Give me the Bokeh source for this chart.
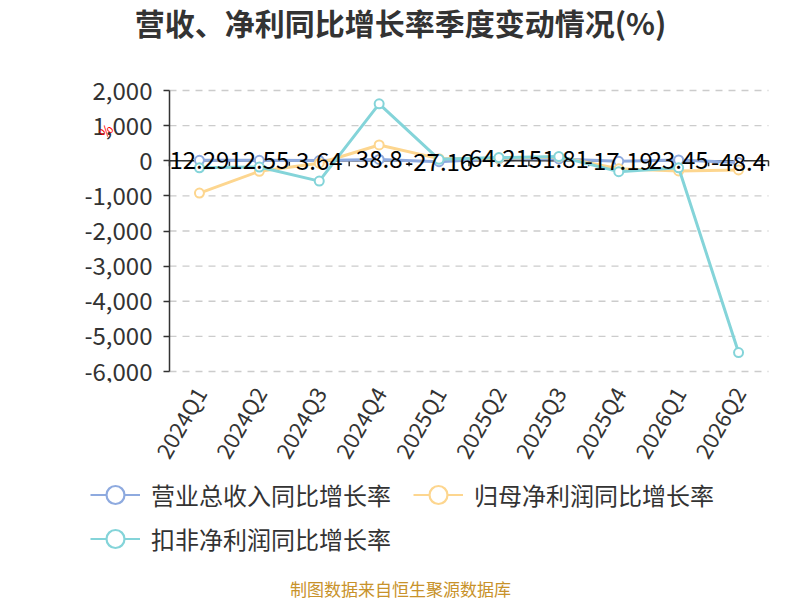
from bokeh.plotting import figure
from bokeh.models import (ColumnDataSource, Range1d, FixedTicker, NumeralTickFormatter,
                          Label, Legend, LegendItem)
from bokeh.layouts import column
from bokeh.core.properties import value
from bokeh.embed import file_html
from bokeh.resources import INLINE
import math

categories = ["2024Q1", "2024Q2", "2024Q3", "2024Q4", "2025Q1",
              "2025Q2", "2025Q3", "2025Q4", "2026Q1", "2026Q2"]
revenue_yoy = [12.29, 12.55, 3.64, 38.8, -27.16, 64.21, 51.81, -17.19, 23.45, -48.4]
netprofit_yoy = [-920, -300, -70, 450, 60, 70, 110, -230, -290, -260]
deducted_yoy = [-200, -180, -580, 1620, 40, 90, 120, -310, -200, -5460]
revenue_labels = ["12.29", "12.55", "3.64", "38.8", "-27.16", "64.21", "51.81", "-17.19", "23.45", "-48.4"]
y_ticks = [-6000, -5000, -4000, -3000, -2000, -1000, 0, 1000, 2000]
series_names = ["营业总收入同比增长率", "归母净利润同比增长率", "扣非净利润同比增长率"]
title_text = "营收、净利同比增长率季度变动情况(%)"
footer_text = "制图数据来自恒生聚源数据库"

FONT = "Noto Sans CJK SC"
C_BLUE = "#8eaadf"
C_ORANGE = "#fdd68f"
C_CYAN = "#84d4d9"

# page layout (pixels)
W = 792
FRAME_L, FRAME_R = 85, 780          # drawing frame (shared by both figures)
FRAME_B = 382                       # bottom of main drawing frame
CHART_L, CHART_R = 169, 768         # plotted category area
CHART_T, CHART_B = 90, 371          # y = max .. min tick
MAIN_H = 476
LEG_H = 600 - MAIN_H

n = len(categories)
ymin, ymax = min(y_ticks), max(y_ticks)
px_per_x = (CHART_R - CHART_L) / n
px_per_y = (CHART_B - CHART_T) / (ymax - ymin)
x_start = -0.5 - (CHART_L - FRAME_L) / px_per_x
x_end = n - 0.5 + (FRAME_R - CHART_R) / px_per_x
y_end = ymax + CHART_T / px_per_y
y_start = ymin - (FRAME_B - CHART_B) / px_per_y

xs = list(range(n))
src = ColumnDataSource(dict(x=xs, rev=revenue_yoy, net=netprofit_yoy, ded=deducted_yoy,
                            lab=revenue_labels))

p = figure(width=W, height=MAIN_H, output_backend="svg", toolbar_location=None,
           x_range=Range1d(x_start, x_end), y_range=Range1d(y_start, y_end),
           min_border_left=FRAME_L, min_border_right=W - FRAME_R, min_border_top=0,
           min_border_bottom=MAIN_H - FRAME_B)
p.outline_line_color = None
p.background_fill_color = "white"
p.border_fill_color = "white"
p.grid.visible = False

# y axis drawn at the left edge of the category area
p.yaxis.fixed_location = -0.5
p.yaxis.bounds = (ymin, ymax)
p.yaxis.ticker = FixedTicker(ticks=y_ticks)
p.yaxis.formatter = NumeralTickFormatter(format="0,0")
p.yaxis.axis_line_color = "#333333"
p.yaxis.axis_line_width = 1.5
p.yaxis.major_tick_line_color = "#333333"
p.yaxis.major_tick_line_width = 1.5
p.yaxis.major_tick_out = 6
p.yaxis.major_tick_in = 0
p.yaxis.minor_tick_line_color = None
p.yaxis.major_label_standoff = 11
p.yaxis.major_label_text_font = FONT
p.yaxis.major_label_text_font_size = "24px"
p.yaxis.major_label_text_color = "#333333"

p.xaxis.ticker = FixedTicker(ticks=xs)
p.xaxis.major_label_overrides = {i: c for i, c in enumerate(categories)}
p.xaxis.axis_line_color = None
p.xaxis.major_tick_line_color = None
p.xaxis.minor_tick_line_color = None
p.xaxis.major_label_orientation = math.pi / 3
p.xaxis.major_label_standoff = 0
p.xaxis.major_label_text_font = FONT
p.xaxis.major_label_text_font_size = "22px"
p.xaxis.major_label_text_color = "#333333"

# dashed horizontal grid over the category area
p.segment(x0=[-0.5] * len(y_ticks), y0=y_ticks, x1=[n - 0.5] * len(y_ticks), y1=y_ticks,
          line_color="#cccccc", line_dash="7 6", line_width=1.3)

# zero axis line with boundary ticks
p.segment(x0=[-0.5], y0=[0], x1=[n - 0.5], y1=[0], line_color="#333333", line_width=1.5)
bounds = [i - 0.5 for i in range(n + 1)]
p.segment(x0=bounds, y0=[0] * len(bounds), x1=bounds, y1=[-160] * len(bounds),
          line_color="#333333", line_width=1.5)

for col, color in (("rev", C_BLUE), ("net", C_ORANGE), ("ded", C_CYAN)):
    p.line("x", col, source=src, line_color=color, line_width=3)
    p.scatter("x", col, source=src, size=9, fill_color="white", line_color=color, line_width=2)

p.text("x", "rev", text="lab", source=src, text_font=value(FONT), text_font_size="24px",
       text_color="#000000", text_align="center", text_baseline="middle")

# title and small red axis-name mark (screen units, from frame bottom-left)
p.add_layout(Label(x=400 - FRAME_L, y=FRAME_B - 21, x_units="screen", y_units="screen",
                   text=title_text, text_font=FONT, text_font_size="30px",
                   text_font_style="bold", text_color="#333333",
                   text_align="center", text_baseline="middle"))
p.add_layout(Label(x=105 - FRAME_L, y=FRAME_B - 130, x_units="screen", y_units="screen",
                   text="%", text_font=FONT, text_font_size="14px", angle=0.8,
                   text_color="#ff0000", text_align="center", text_baseline="middle"))

# ---- legend + footer strip ----
fl = figure(width=W, height=LEG_H, output_backend="svg", toolbar_location=None,
            x_range=Range1d(FRAME_L, FRAME_R), y_range=Range1d(LEG_H, 0),
            x_axis_location=None, y_axis_location=None,
            min_border_left=FRAME_L, min_border_right=W - FRAME_R,
            min_border_top=0, min_border_bottom=0)
fl.grid.visible = False
fl.outline_line_color = None
fl.background_fill_color = "white"
fl.border_fill_color = "white"

items = []
for name, color in zip(series_names, (C_BLUE, C_ORANGE, C_CYAN)):
    proxy = ColumnDataSource(dict(x=[float("nan")], y=[float("nan")]))
    rl = fl.line("x", "y", source=proxy, line_color=color, line_width=2.2)
    rs = fl.scatter("x", "y", source=proxy, size=18, fill_color="white",
                    line_color=color, line_width=2.2)
    items.append(LegendItem(label=name, renderers=[rl, rs]))

GH = 45


def make_legend(its, center_y):
    lg = Legend(items=its, location=(90 - FRAME_L, LEG_H - (center_y - MAIN_H) - GH / 2),
                orientation="horizontal",
                glyph_width=50, glyph_height=GH, label_standoff=11, spacing=22,
                padding=0, margin=0, border_line_color=None, background_fill_alpha=0,
                label_text_font=FONT, label_text_font_size="24px", label_text_color="#333333",
                label_text_baseline="middle")
    fl.add_layout(lg)


make_legend(items[:2], 494)
make_legend(items[2:], 538)

fl.add_layout(Label(x=400, y=588 - MAIN_H, text=footer_text, text_font=FONT,
                    text_font_size="17px", text_color="#c8922a",
                    text_align="center", text_baseline="middle"))

layout = column(p, fl, spacing=0)
open("out.html", "w").write(file_html(layout, INLINE))
